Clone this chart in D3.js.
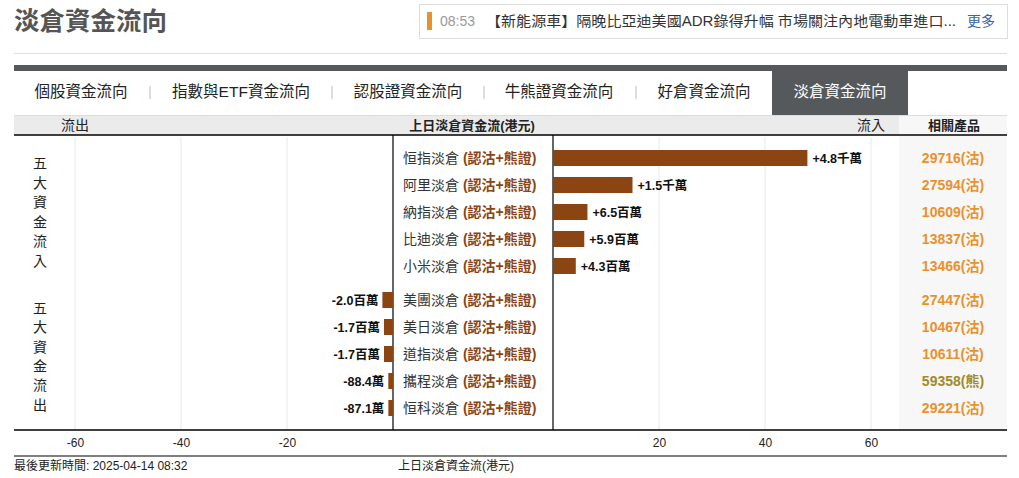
<!DOCTYPE html>
<html>
<head>
<meta charset="utf-8">
<script src="https://cdn.jsdelivr.net/npm/d3@7"></script>
<style>
body{margin:0;background:#fff;}
text{font-family:Arial,"Liberation Sans","Noto Sans CJK TC",sans-serif;}
</style>
</head>
<body>
<svg id="chart"></svg>
<script>
// 數據
var inNames = ['恒指淡倉','阿里淡倉','納指淡倉','比迪淡倉','小米淡倉']
var inValues = [48, 15, 6.5, 5.9, 4.3] // 百萬
var inLabels = ['+4.8千萬','+1.5千萬','+6.5百萬','+5.9百萬','+4.3百萬']
var inProducts = ['29716(沽)','27594(沽)','10609(沽)','13837(沽)','13466(沽)']

var outNames = ['美團淡倉','美日淡倉','道指淡倉','攜程淡倉','恒科淡倉']
var outValues = [-2.0, -1.7, -1.7, -0.884, -0.871]
var outLabels = ['-2.0百萬','-1.7百萬','-1.7百萬','-88.4萬','-87.1萬']
var outProducts = ['27447(沽)','10467(沽)','10611(沽)','59358(熊)','29221(沽)']

var leftTicks = [-60, -40, -20]
var rightTicks = [20, 40, 60]
var tabs = ['個股資金流向','指數與ETF資金流向','認股證資金流向','牛熊證資金流向','好倉資金流向','淡倉資金流向']

var svg = d3.select('#chart').attr('width', 1019).attr('height', 478)

// 比例尺
var xLeft = d3.scaleLinear().domain([-60, 0]).range([75, 393])
var xRight = d3.scaleLinear().domain([0, 60]).range([553, 871])
var yIn = d3.scaleBand().domain(inNames).range([144.5, 279.5]).paddingInner(0.407).paddingOuter(0.2035)
var yOut = d3.scaleBand().domain(outNames).range([286.5, 421.5]).paddingInner(0.407).paddingOuter(0.2035)

// 標題
svg.append('text').attr('x', 14).attr('y', 30).attr('font-size', 25.5).attr('font-weight', 'bold')
  .attr('fill', '#555').text('淡倉資金流向')

// 新聞框
svg.append('rect').attr('x', 419.5).attr('y', 4.5).attr('width', 588).attr('height', 34)
  .attr('fill', '#fff').attr('stroke', '#ddd')
svg.append('rect').attr('x', 427).attr('y', 12).attr('width', 5).attr('height', 18).attr('fill', '#e8922d')
svg.append('text').attr('x', 440).attr('y', 26).attr('font-size', 14).attr('fill', '#999').text('08:53')
svg.append('text').attr('x', 486).attr('y', 26).attr('font-size', 14).attr('fill', '#333')
  .attr('textLength', 470).attr('lengthAdjust', 'spacingAndGlyphs')
  .text('【新能源車】隔晚比亞迪美國ADR錄得升幅 市場關注內地電動車進口...')
svg.append('text').attr('x', 967).attr('y', 26).attr('font-size', 14).attr('fill', '#3366aa').text('更多')

svg.append('line').attr('x1', 14).attr('x2', 1007).attr('y1', 53.5).attr('y2', 53.5).attr('stroke', '#ddd')

// 分頁標籤
svg.append('rect').attr('x', 14).attr('y', 65).attr('width', 993).attr('height', 6).attr('fill', '#55595c')
svg.append('rect').attr('x', 772).attr('y', 71).attr('width', 136).attr('height', 44).attr('fill', '#55595c')
var tabX = [81, 241, 408, 559, 704, 840]
var sepX = [150, 332, 484, 636]
tabs.forEach(function(t, i) {
  svg.append('text').attr('x', tabX[i]).attr('y', 97).attr('text-anchor', 'middle')
    .attr('font-size', 15.5).attr('fill', i == 5 ? '#fff' : '#222').text(t)
})
sepX.forEach(function(x) {
  svg.append('line').attr('x1', x).attr('x2', x).attr('y1', 86).attr('y2', 99).attr('stroke', '#bbb')
})

// 表頭
svg.append('rect').attr('x', 14).attr('y', 115).attr('width', 885).attr('height', 20).attr('fill', '#ebebeb')
svg.append('rect').attr('x', 899).attr('y', 115).attr('width', 108).attr('height', 20).attr('fill', '#f7f7f7')
svg.append('line').attr('x1', 14).attr('x2', 1007).attr('y1', 115.5).attr('y2', 115.5).attr('stroke', '#ddd')
svg.append('text').attr('x', 75).attr('y', 130).attr('text-anchor', 'middle').attr('font-size', 14).attr('fill', '#222').text('流出')
svg.append('text').attr('x', 472).attr('y', 130).attr('text-anchor', 'middle').attr('font-size', 13).attr('font-weight', 'bold').attr('fill', '#222').text('上日淡倉資金流(港元)')
svg.append('text').attr('x', 871).attr('y', 130).attr('text-anchor', 'middle').attr('font-size', 14).attr('fill', '#222').text('流入')
svg.append('text').attr('x', 954).attr('y', 130).attr('text-anchor', 'middle').attr('font-size', 13).attr('font-weight', 'bold').attr('fill', '#222').text('相關產品')

// 相關產品背景
svg.append('rect').attr('x', 899).attr('y', 136).attr('width', 108).attr('height', 294).attr('fill', '#f7f7f7')

// 網格線
svg.selectAll('.gl').data(leftTicks).enter().append('line')
  .attr('x1', d => xLeft(d)).attr('x2', d => xLeft(d)).attr('y1', 137).attr('y2', 430).attr('stroke', '#e8e8e8')
svg.selectAll('.gr').data(rightTicks).enter().append('line')
  .attr('x1', d => xRight(d)).attr('x2', d => xRight(d)).attr('y1', 137).attr('y2', 430).attr('stroke', '#e8e8e8')

svg.append('line').attr('x1', 14).attr('x2', 1007).attr('y1', 135).attr('y2', 135).attr('stroke', '#000').attr('stroke-width', 1.5)
svg.append('line').attr('x1', xLeft(0)).attr('x2', xLeft(0)).attr('y1', 135).attr('y2', 430).attr('stroke', '#000').attr('stroke-width', 1.2)
svg.append('line').attr('x1', xRight(0)).attr('x2', xRight(0)).attr('y1', 135).attr('y2', 430).attr('stroke', '#000').attr('stroke-width', 1.2)

// 左側直排標籤
'五大資金流入'.split('').forEach(function(c, i) {
  svg.append('text').attr('x', 40).attr('y', 168 + i * 19.5).attr('text-anchor', 'middle').attr('font-size', 14).attr('fill', '#222').text(c)
})
'五大資金流出'.split('').forEach(function(c, i) {
  svg.append('text').attr('x', 40).attr('y', 313 + i * 19.3).attr('text-anchor', 'middle').attr('font-size', 14).attr('fill', '#222').text(c)
})

var barColor = '#8b4513'

function drawRows(names, values, labels, products, y) {
  names.forEach(function(n, i) {
    var cy = y(n) + y.bandwidth() / 2
    var v = values[i]
    if (v >= 0) {
      svg.append('rect').attr('x', xRight(0)).attr('y', y(n)).attr('width', xRight(v) - xRight(0))
        .attr('height', y.bandwidth()).attr('fill', barColor)
      svg.append('text').attr('x', xRight(v) + 5).attr('y', cy + 4.5).attr('font-size', 12.5).attr('font-weight', 'bold')
        .attr('fill', '#111').text(labels[i])
    } else {
      svg.append('rect').attr('x', xLeft(v)).attr('y', y(n)).attr('width', xLeft(0) - xLeft(v))
        .attr('height', y.bandwidth()).attr('fill', barColor)
      svg.append('text').attr('x', xLeft(v) - 4).attr('y', cy + 4.5).attr('text-anchor', 'end').attr('font-size', 12.5).attr('font-weight', 'bold')
        .attr('fill', '#111').text(labels[i])
    }
    var t = svg.append('text').attr('x', 403).attr('y', cy + 5).attr('font-size', 14)
    t.append('tspan').attr('fill', '#333').text(n + ' ')
    t.append('tspan').attr('fill', barColor).attr('font-weight', 'bold').text('(認沽+熊證)')
    svg.append('text').attr('x', 953).attr('y', cy + 5).attr('text-anchor', 'middle').attr('font-size', 14).attr('font-weight', 'bold')
      .attr('fill', products[i].indexOf('熊') >= 0 ? '#a08a2a' : '#e8922d').text(products[i])
  })
}
drawRows(inNames, inValues, inLabels, inProducts, yIn)
drawRows(outNames, outValues, outLabels, outProducts, yOut)

// 座標軸
var fmt = d => String(d)
svg.append('g').attr('transform', 'translate(0,430)')
  .call(d3.axisBottom(xLeft).tickValues(leftTicks).tickFormat(fmt).tickSize(0).tickPadding(8))
svg.append('g').attr('transform', 'translate(0,430)')
  .call(d3.axisBottom(xRight).tickValues(rightTicks).tickFormat(fmt).tickSize(0).tickPadding(8))
svg.selectAll('.domain').remove()
svg.selectAll('.tick text').attr('font-size', 12).attr('fill', '#222').attr('font-family', 'Arial,"Liberation Sans",sans-serif')
svg.append('line').attr('x1', 14).attr('x2', 1007).attr('y1', 430).attr('y2', 430).attr('stroke', '#000').attr('stroke-width', 1.5)
svg.append('line').attr('x1', 14).attr('x2', 1007).attr('y1', 456).attr('y2', 456).attr('stroke', '#000').attr('stroke-width', 1.2)

// 頁腳
svg.append('text').attr('x', 14).attr('y', 470).attr('font-size', 12).attr('fill', '#222').text('最後更新時間: 2025-04-14 08:32')
svg.append('text').attr('x', 398).attr('y', 470).attr('font-size', 12).attr('fill', '#222').text('上日淡倉資金流(港元)')
</script>
</body>
</html>
